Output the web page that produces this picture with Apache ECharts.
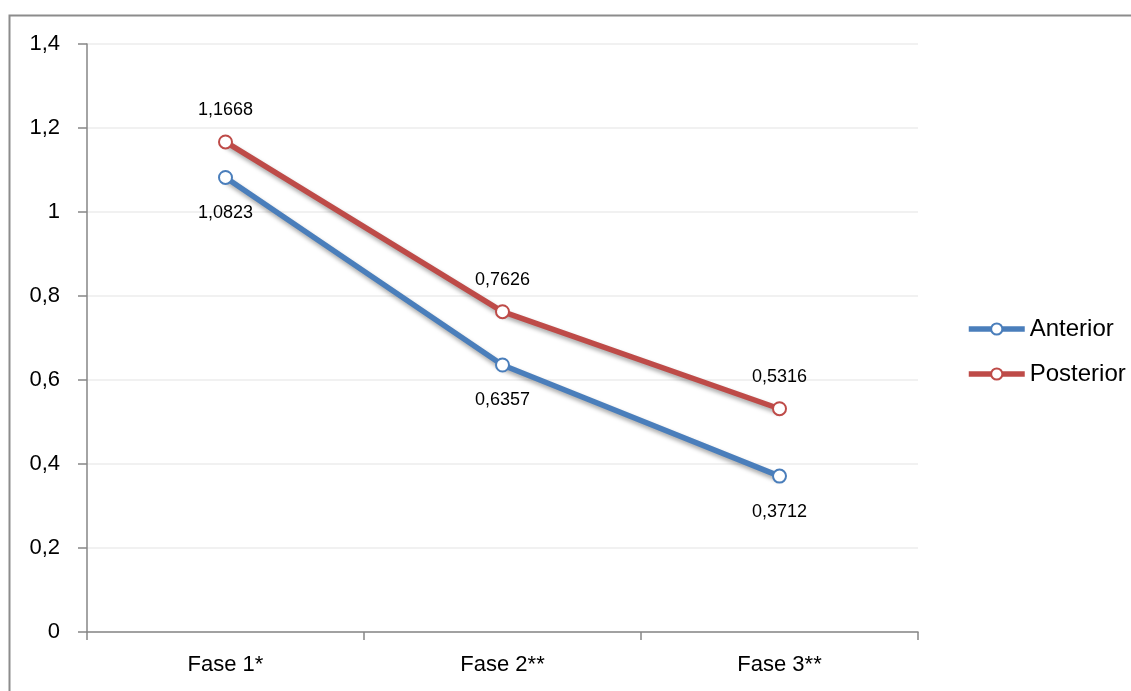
<!DOCTYPE html>
<html>
<head>
<meta charset="utf-8">
<script src="https://cdn.jsdelivr.net/npm/echarts@6/dist/echarts.min.js"></script>
<style>
  html, body { margin: 0; padding: 0; background: #fff; }
  #chart { width: 1131px; height: 691px; }
</style>
</head>
<body>
<div id="chart"></div>
<script>
// valores
const categories = ['Fase 1*', 'Fase 2**', 'Fase 3**']
const anterior = [1.0823, 0.6357, 0.3712]
const posterior = [1.1668, 0.7626, 0.5316]
const seriesNames = ['Anterior', 'Posterior']

const FONT = '"Liberation Sans", "DejaVu Sans", sans-serif'
const comma = (v) => String(v).replace('.', ',')

let chart = echarts.init(document.getElementById('chart'))

function lineSeries(name, data, color, labelPos) {
  return {
    name: name,
    type: 'line',
    data: data,
    symbol: 'circle',
    symbolSize: 13,
    z: labelPos === 'top' ? 3 : 2,
    itemStyle: { color: '#fff', borderColor: color, borderWidth: 2 },
    lineStyle: {
      color: color,
      width: 5.5,
      shadowColor: 'rgba(0,0,0,0.35)',
      shadowBlur: 4,
      shadowOffsetX: 1,
      shadowOffsetY: 3
    },
    label: {
      show: true,
      position: labelPos,
      distance: labelPos === 'top' ? 15 : 19,
      color: '#000',
      fontFamily: FONT,
      fontSize: 18,
      formatter: ({ value }) => comma(value)
    },
    emphasis: { disabled: true }
  }
}

let option = {
  animation: false,
  backgroundColor: '#fff',
  graphic: [{
    type: 'rect',
    shape: { x: 9.5, y: 15.5, width: 1200, height: 800 },
    style: { fill: 'none', stroke: '#8c8c8c', lineWidth: 2 },
    silent: true
  }],
  color: ['#4A7EBB', '#BE4B48'],
  legend: {
    orient: 'vertical',
    left: 961,
    top: 312,
    itemWidth: 56,
    itemHeight: 14,
    itemGap: 21,
    lineStyle: { width: 5.5 },
    textStyle: { fontFamily: FONT, fontSize: 24, color: '#000' },
    data: seriesNames,
    selectedMode: false
  },
  grid: {
    left: 87,
    right: 213,
    top: 44,
    bottom: 59,
    containLabel: false
  },
  xAxis: {
    type: 'category',
    data: categories,
    boundaryGap: true,
    axisLine: { lineStyle: { color: '#868686', width: 1.5 } },
    axisTick: { show: true, length: 8, lineStyle: { color: '#868686', width: 1.5 } },
    axisLabel: { color: '#000', fontFamily: FONT, fontSize: 22, margin: 22 },
    splitLine: { show: false }
  },
  yAxis: {
    type: 'value',
    min: 0,
    max: 1.4,
    interval: 0.2,
    axisLine: { show: true, lineStyle: { color: '#868686', width: 1.5 } },
    axisTick: { show: true, length: 9, lineStyle: { color: '#868686', width: 1.5 } },
    axisLabel: {
      color: '#000',
      fontFamily: FONT,
      fontSize: 22,
      margin: 27,
      formatter: (v) => comma(+v.toFixed(1))
    },
    splitLine: { lineStyle: { color: '#EDEDED', width: 1.5 } }
  },
  series: [
    lineSeries(seriesNames[0], anterior, '#4A7EBB', 'bottom'),
    lineSeries(seriesNames[1], posterior, '#BE4B48', 'top')
  ]
}

chart.setOption(option, true)
</script>
</body>
</html>
